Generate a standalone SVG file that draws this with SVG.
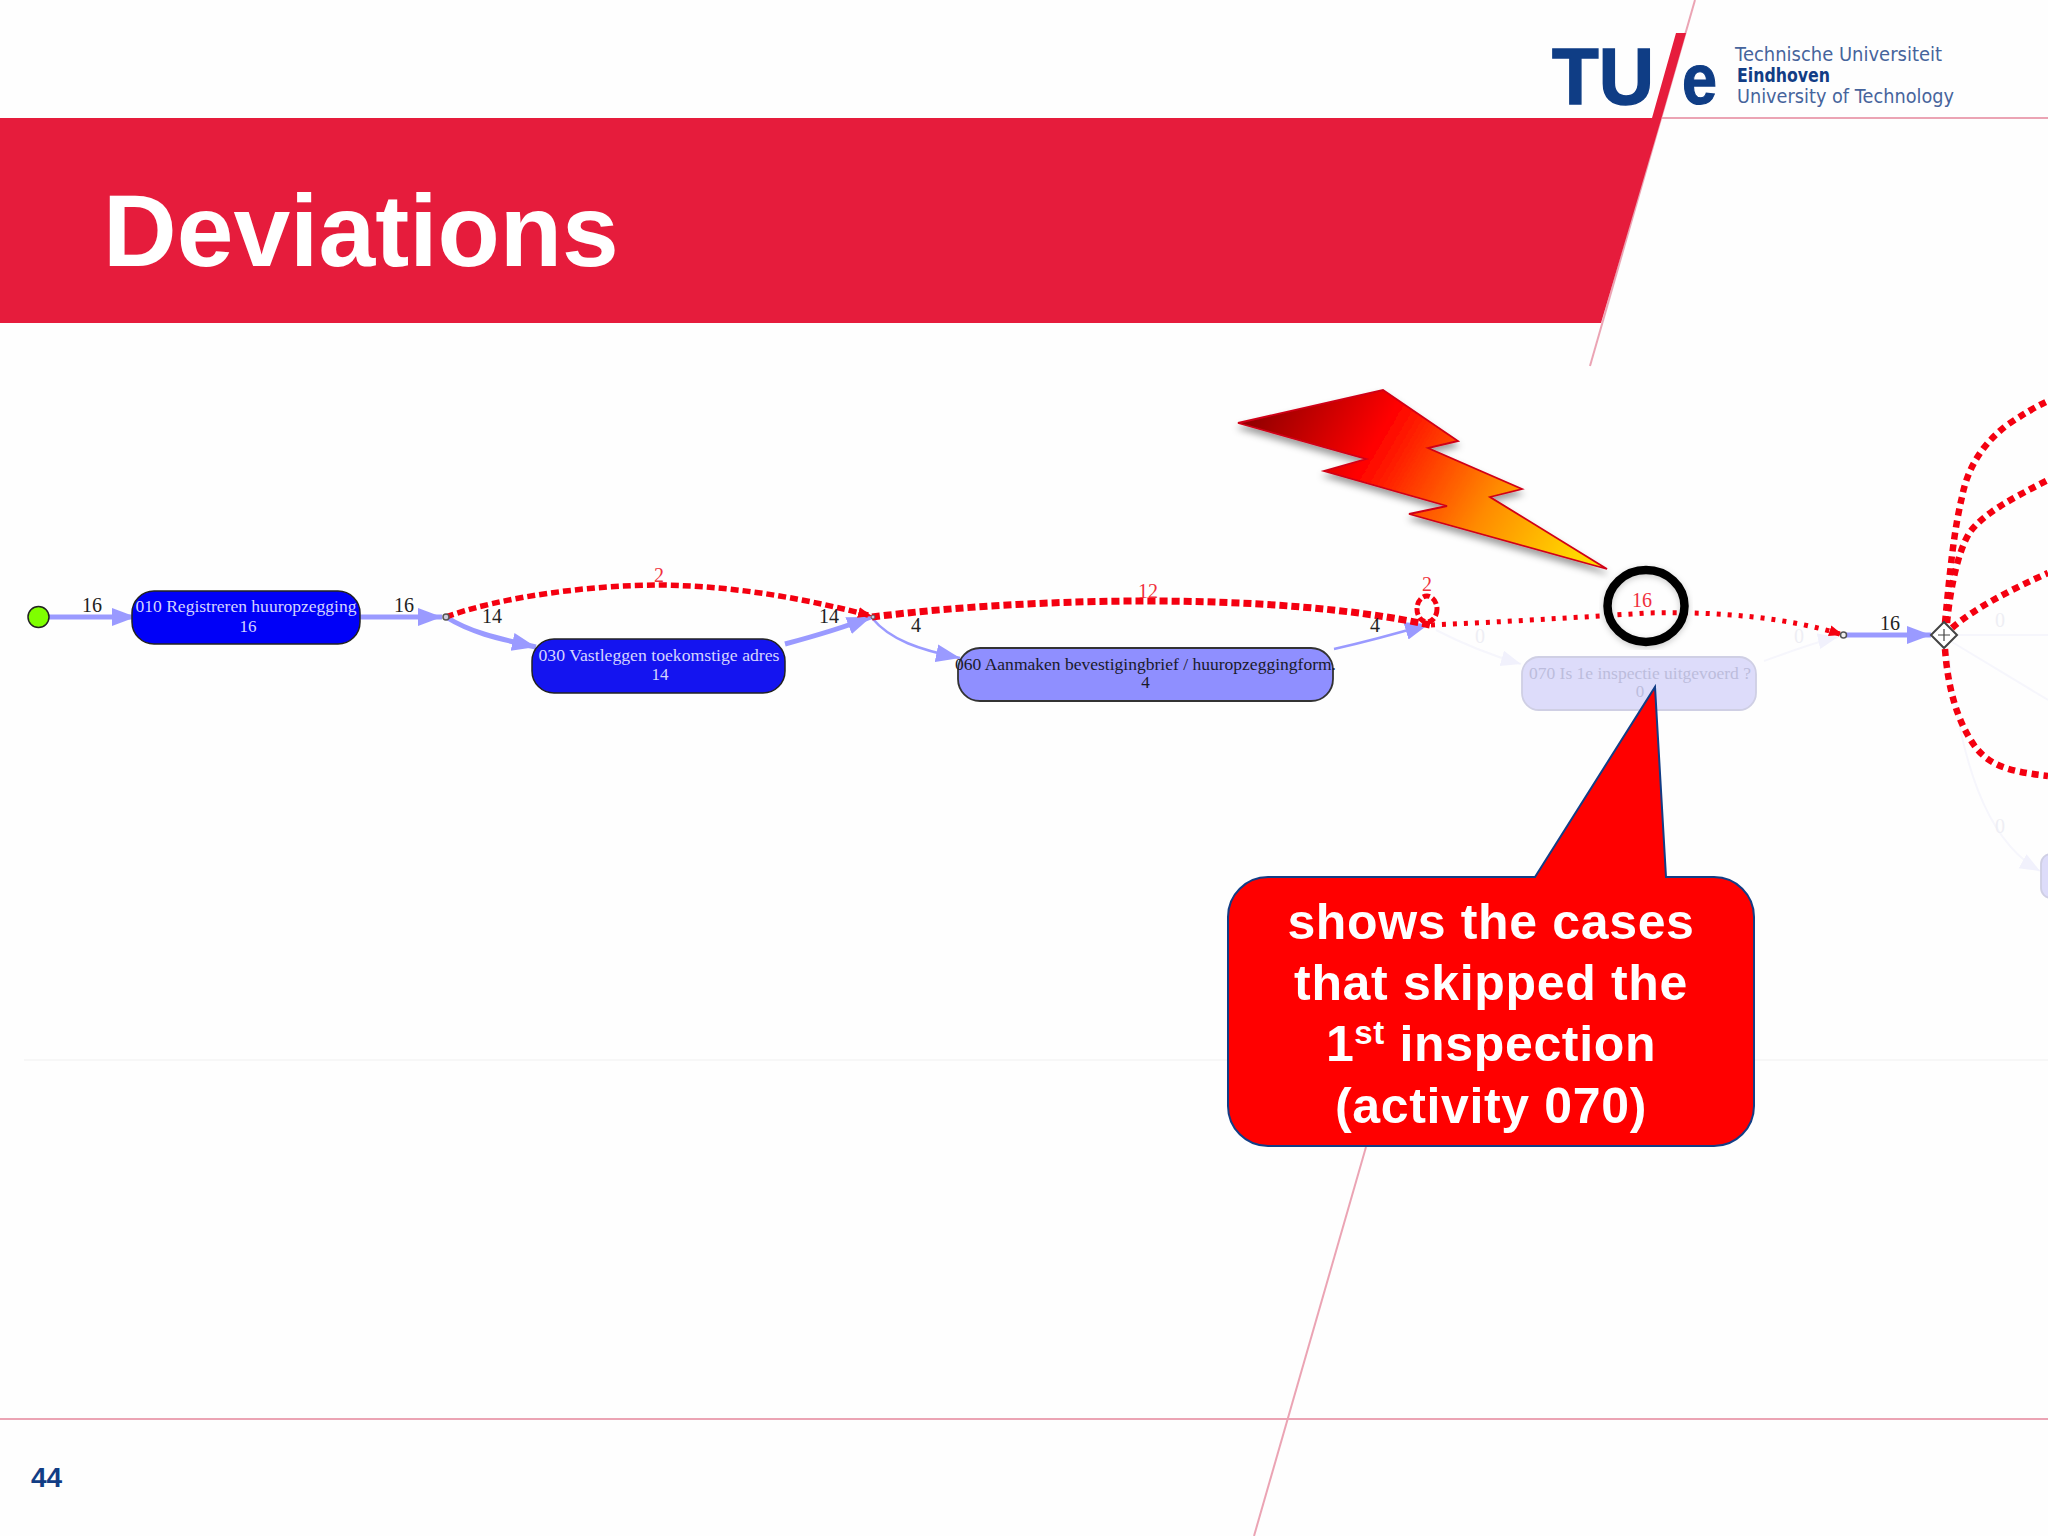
<svg xmlns="http://www.w3.org/2000/svg" width="2048" height="1536" viewBox="0 0 2048 1536">
<style>
.s{font-family:"Liberation Serif","Times New Roman",serif}
.a{font-family:"Liberation Sans",Arial,sans-serif;font-weight:bold}
.d{font-family:"DejaVu Sans",sans-serif;fill:#46649c}
.el{font-size:20px;fill:#222;text-anchor:middle}
.er{font-size:20px;fill:#f0303c;text-anchor:middle}
.f0{font-size:20px;fill:#eeeef4;text-anchor:middle}
.n{font-size:17px;text-anchor:middle}
.flow{fill:none;stroke:#9a9aff}
.dev{fill:none;stroke:#f40010}
.faint{fill:none;stroke:#f6f6fc;stroke-width:2}
.pink{stroke:#eba4b4;stroke-width:2;fill:none}
.ct{font-size:50px;fill:#fff;text-anchor:middle;letter-spacing:.65px}
</style>
<defs>
<marker id="hf" markerUnits="userSpaceOnUse" markerWidth="26" markerHeight="20" refX="24" refY="10" orient="auto"><path d="M0,1L24,10L0,19Z" fill="#9a9aff"/></marker>
<marker id="hr" markerUnits="userSpaceOnUse" markerWidth="16" markerHeight="14" refX="14" refY="6.5" orient="auto"><path d="M0,1L14,6.5L0,12Z" fill="#f40010"/></marker>
<marker id="hg" markerUnits="userSpaceOnUse" markerWidth="22" markerHeight="18" refX="20" refY="9" orient="auto"><path d="M0,1L20,9L0,17Z" fill="#f1f1fc"/></marker>
<linearGradient id="bolt" gradientUnits="userSpaceOnUse" x1="1270" y1="395" x2="1570" y2="570"><stop offset="0" stop-color="#960000"/><stop offset=".33" stop-color="#ff0000"/><stop offset=".7" stop-color="#ff8a00"/><stop offset="1" stop-color="#ffd800"/></linearGradient>
<filter id="sh" x="-10%" y="-10%" width="125%" height="130%"><feDropShadow dx="0" dy="5" stdDeviation="3.5" flood-color="#000" flood-opacity=".38"/></filter>
<filter id="sh2" x="-10%" y="-10%" width="120%" height="120%"><feDropShadow dx="0" dy="2" stdDeviation="3" flood-color="#000" flood-opacity=".2"/></filter>
</defs>
<rect width="2048" height="1536" fill="#fefefe"/>
<g id="template">
<line x1="24" y1="1060" x2="2048" y2="1060" stroke="#f4f4f4" stroke-width="1.5"/>
<line x1="0" y1="1419" x2="2048" y2="1419" class="pink"/>
<line x1="1661" y1="118" x2="2048" y2="118" class="pink"/>
<line x1="1695" y1="0" x2="1590" y2="366" class="pink"/>
<line x1="1366" y1="1147" x2="1254" y2="1536" class="pink"/>
<path d="M0,118H1652L1676,33H1686L1661.5,118L1601,323H0Z" fill="#e61c3c"/>
<text x="103" y="266" class="a" font-size="102" fill="#fff">Deviations</text>
<text x="31" y="1487" class="a" font-size="28" fill="#123d85">44</text>
</g>
<g id="logo">
<text x="1552" y="104" class="a" font-size="80" fill="#0f3d85" stroke="#0f3d85" stroke-width="1.5" textLength="102" lengthAdjust="spacingAndGlyphs">TU</text>
<text x="1682" y="104" class="a" font-size="72" fill="#0f3d85" stroke="#0f3d85" stroke-width="1.2" textLength="35" lengthAdjust="spacingAndGlyphs">e</text>
<text x="1735" y="61" class="d" font-size="19" textLength="207" lengthAdjust="spacingAndGlyphs">Technische Universiteit</text>
<text x="1737" y="82" class="d" font-size="19" font-weight="bold" style="fill:#123d85" textLength="93" lengthAdjust="spacingAndGlyphs">Eindhoven</text>
<text x="1737" y="103" class="d" font-size="19" textLength="217" lengthAdjust="spacingAndGlyphs">University of Technology</text>
</g>
<g id="connectors">
<path class="faint" d="M1436,630C1465,645 1490,655 1521,664" marker-end="url(#hg)"/>
<path class="faint" d="M1764,661C1795,650 1815,642 1838,637" marker-end="url(#hg)"/>
<path class="faint" d="M1956,635H2048"/>
<path class="faint" d="M1952,642L2048,700"/>
<path class="faint" d="M1948,650C1960,760 1985,840 2040,871" marker-end="url(#hg)"/>
<path class="flow" stroke-width="5" d="M49,617H136" marker-end="url(#hf)"/>
<path class="flow" stroke-width="5" d="M360,617H442" marker-end="url(#hf)"/>
<path class="flow" stroke-width="5" d="M446,617C470,632 495,638 536,647" marker-end="url(#hf)"/>
<path class="flow" stroke-width="5" d="M785,644C815,636 845,627 871,617" marker-end="url(#hf)"/>
<path class="flow" stroke-width="2.5" d="M872,618C890,640 920,650 960,658" marker-end="url(#hf)"/>
<path class="flow" stroke-width="2.5" d="M1334,649C1365,642 1395,634 1429,624" marker-end="url(#hf)"/>
<path class="flow" stroke-width="5" d="M1843,635H1931" marker-end="url(#hf)"/>
<path class="dev" stroke-width="5.5" stroke-dasharray="8 4" d="M446,617C500,597 590,585 660,585C740,586 810,600 872,616" marker-end="url(#hr)"/>
<path class="dev" stroke-width="7" stroke-dasharray="8 4" d="M872,617C960,606 1060,601 1146,601C1250,601 1350,608 1430,625"/>
<ellipse class="dev" cx="1427" cy="609" rx="10" ry="13" stroke-width="5" stroke-dasharray="7 3"/>
<path class="dev" stroke-width="5" stroke-dasharray="4 7" d="M1431,625C1500,622 1570,618 1646,613C1720,611 1790,618 1843,635" marker-end="url(#hr)"/>
<path class="dev" stroke-width="6.5" stroke-dasharray="7 5" d="M1945,623C1950,570 1954,530 1962,497C1968,465 1985,442 2007,425C2022,415 2035,407 2048,401"/>
<path class="dev" stroke-width="6.5" stroke-dasharray="7 5" d="M1947,623C1950,590 1958,550 1970,532C1985,512 2015,497 2048,480"/>
<path class="dev" stroke-width="6.5" stroke-dasharray="7 5" d="M1952,628C1975,608 2010,590 2048,573"/>
<path class="dev" stroke-width="6.5" stroke-dasharray="7 5" d="M1945,649C1948,690 1958,722 1974,745C1990,768 2015,772 2048,776"/>
<text x="92" y="612" class="s el">16</text>
<text x="404" y="612" class="s el">16</text>
<text x="492" y="623" class="s el">14</text>
<text x="659" y="582" class="s er">2</text>
<text x="829" y="623" class="s el">14</text>
<text x="916" y="632" class="s el">4</text>
<text x="1148" y="598" class="s er">12</text>
<text x="1375" y="632" class="s el">4</text>
<text x="1427" y="591" class="s er">2</text>
<text x="1642" y="607" class="s er">16</text>
<text x="1890" y="630" class="s el">16</text>
<text x="1480" y="643" class="s f0">0</text>
<text x="1799" y="643" class="s f0">0</text>
<text x="2000" y="627" class="s f0">0</text>
<text x="2000" y="833" class="s f0">0</text>
</g>
<g id="start"><ellipse cx="38.5" cy="617" rx="10.5" ry="10.5" fill="#7fff00" stroke="#222" stroke-width="1.5"/></g>
<g id="j1"><circle cx="446" cy="617" r="3" fill="#ccd" stroke="#555" stroke-width="1.5"/></g>
<g id="j2"><circle cx="873" cy="617" r="2" fill="#ccd" stroke="#555" stroke-width="1"/></g>
<g id="j3"><circle cx="1843.5" cy="635" r="3" fill="#eee" stroke="#555" stroke-width="1.5"/></g>
<g id="n010">
<rect x="132" y="591" width="228" height="53" rx="22" fill="#0000f8" stroke="#222" stroke-width="1.5"/>
<text x="246" y="612" class="s n" fill="#d4d4ff" textLength="221" lengthAdjust="spacingAndGlyphs">010 Registreren huuropzegging</text>
<text x="248" y="632" class="s n" fill="#d4d4ff">16</text>
</g>
<g id="n030">
<rect x="532" y="639" width="253" height="54" rx="22" fill="#1414f0" stroke="#222" stroke-width="1.5"/>
<text x="659" y="661" class="s n" fill="#d4d4ff" textLength="241" lengthAdjust="spacingAndGlyphs">030 Vastleggen toekomstige adres</text>
<text x="660" y="680" class="s n" fill="#d4d4ff">14</text>
</g>
<g id="n060">
<rect x="958" y="648" width="375" height="53" rx="22" fill="#8f8fff" stroke="#333" stroke-width="1.8"/>
<text x="1145.5" y="670" class="s n" fill="#1a1a2a" textLength="381" lengthAdjust="spacingAndGlyphs">060 Aanmaken bevestigingbrief / huuropzeggingform.</text>
<text x="1145.5" y="688" class="s n" fill="#1a1a2a">4</text>
</g>
<g id="n070">
<rect x="1522" y="657" width="234" height="53" rx="17" fill="#dddcfa" stroke="#cfcfe4" stroke-width="1.8"/>
<text x="1640" y="679" class="s n" fill="#bcbcdc" textLength="222" lengthAdjust="spacingAndGlyphs">070 Is 1e inspectie uitgevoerd ?</text>
<text x="1640" y="697" class="s n" fill="#bcbcdc">0</text>
</g>
<g id="n-partial"><rect x="2041" y="854" width="30" height="44" rx="10" fill="#dddcfa" stroke="#cfcfe4" stroke-width="1.8"/></g>
<g id="split">
<path d="M1944,622L1957,635L1944,648L1931,635Z" fill="#fff" stroke="#444" stroke-width="2"/>
<path d="M1938,635H1950M1944,629V641" stroke="#444" stroke-width="1.2"/>
</g>
<g id="highlight"><ellipse cx="1646" cy="606" rx="38.5" ry="36" fill="none" stroke="#000" stroke-width="8.5" filter="url(#sh2)"/></g>
<g id="lightning"><path d="M1238,423L1383,390L1458,441L1428,448L1522,489L1490,497L1607,569L1409,514L1447,506L1324,471L1366,459Z" fill="url(#bolt)" stroke="#d00018" stroke-width="1.8" stroke-linejoin="miter" filter="url(#sh)"/></g>
<g id="callout">
<path d="M1268,877H1535L1655,687L1666,877H1714A40,40 0 0 1 1754,917V1106A40,40 0 0 1 1714,1146H1268A40,40 0 0 1 1228,1106V917A40,40 0 0 1 1268,877Z" fill="#ff0000" stroke="#123d85" stroke-width="2"/>
<text x="1491" y="939" class="a ct">shows the cases</text>
<text x="1491" y="1000" class="a ct">that skipped the</text>
<text x="1491" y="1061" class="a ct">1<tspan font-size="33" dy="-17">st</tspan><tspan dy="17"> inspection</tspan></text>
<text x="1491" y="1123" class="a ct">(activity 070)</text>
</g>
</svg>
